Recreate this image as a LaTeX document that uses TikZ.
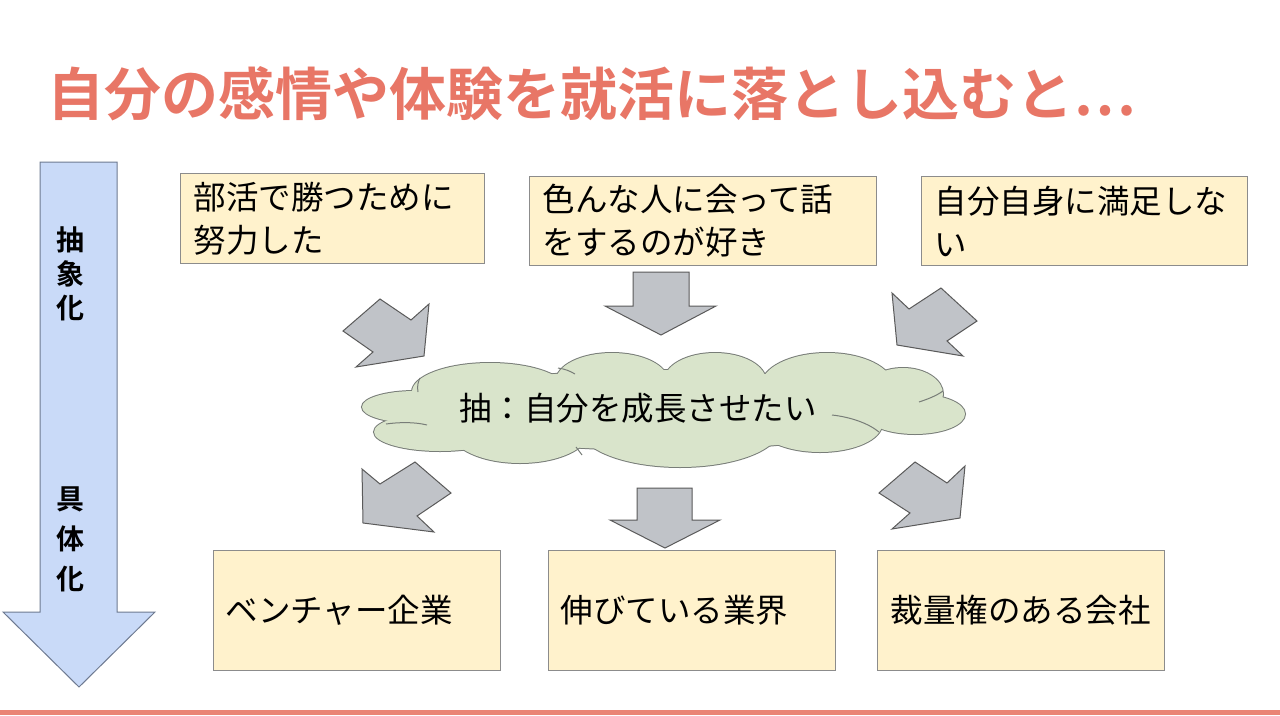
\documentclass[tikz,border=0pt]{standalone}
\usepackage{fontspec}
\setmainfont{Noto Sans CJK JP}[BoldFont={Noto Sans CJK JP Bold}]
\definecolor{titlered}{RGB}{232,118,102}
\definecolor{boxfill}{RGB}{255,242,204}
\definecolor{boxline}{RGB}{140,140,140}
\definecolor{bluefill}{RGB}{201,218,248}
\definecolor{blueline}{RGB}{110,122,145}
\definecolor{grayfill}{RGB}{192,195,200}
\definecolor{grayline}{RGB}{90,90,90}
\definecolor{cloudfill}{RGB}{217,228,203}
\definecolor{cloudline}{RGB}{120,125,120}
\tikzset{
  infobox/.style={draw=boxline, line width=1pt, fill=boxfill, rectangle, anchor=north west,
    align=left, inner xsep=13pt, inner ysep=0pt, font=\fontsize{32.5}{43}\selectfont},
  grayarrow/.style={draw=grayline, line width=1pt, fill=grayfill, line join=miter},
}
\newcommand{\cloudpuffs}[1]{%
  \path[#1] (415,407) ellipse [x radius=53, y radius=16];
  \path[#1] (440,432) ellipse [x radius=66, y radius=19];
  \path[#1] (490,392) ellipse [x radius=78, y radius=29];
  \path[#1] (612,381) ellipse [x radius=56, y radius=28];
  \path[#1] (715,381) ellipse [x radius=51, y radius=28];
  \path[#1] (827,386) ellipse [x radius=66, y radius=33];
  \path[#1] (903,394) ellipse [x radius=40, y radius=26];
  \path[#1] (915,414) ellipse [x radius=50, y radius=20];
  \path[#1] (820,424) ellipse [x radius=62, y radius=28];
  \path[#1] (680,428) ellipse [x radius=100, y radius=39];
  \path[#1] (520,430) ellipse [x radius=70, y radius=33];
  \path[#1] (660,410) ellipse [x radius=240, y radius=40];
}
\begin{document}
\begin{tikzpicture}[x=1pt,y=-1pt]
\useasboundingbox[fill=white] (0,0) rectangle (1280,715);
% title
\node[anchor=west, text=titlered, font=\fontsize{57}{62}\selectfont\bfseries, inner sep=0pt] (title) at (47,94) {自分の感情や体験を就活に落とし込むと…};
% left arrow
\draw[draw=blueline, fill=bluefill, line width=1pt] (40,162) -- (117,162) -- (117,612) -- (155,612) -- (79,687) -- (3,612) -- (40,612) -- cycle;
\node[font=\fontsize{28}{34}\selectfont\bfseries, align=center, inner sep=0pt] (abs) at (70,274) {抽\\象\\化};
\node[font=\fontsize{28}{40}\selectfont\bfseries, align=center, inner sep=0pt] (conc) at (70,539) {具\\体\\化};
% top boxes
\node[infobox, minimum width=304pt, minimum height=90pt, text width=278pt] (b1) at (180,173) {部活で勝つために\\努力した};
\node[infobox, minimum width=347pt, minimum height=89pt, text width=321pt] (b2) at (529,176) {色んな人に会って話\\をするのが好き};
\node[infobox, minimum width=326pt, minimum height=89pt, text width=300pt] (b3) at (921,176) {自分自身に満足しな\\い};
% cloud
\cloudpuffs{draw=cloudline, line width=2pt}
\cloudpuffs{fill=cloudfill}
\draw[cloudline, line width=1pt] (386,424) .. controls (400,422) and (415,422) .. (427,425);
\draw[cloudline, line width=1pt] (919,402) .. controls (928,399) and (936,396) .. (943,391);
\draw[cloudline, line width=1pt] (832,415) .. controls (850,417) and (868,423) .. (879,432);
\draw[cloudline, line width=1pt] (418,392) .. controls (417,386) and (418,382) .. (420,378);
\draw[cloudline, line width=1pt] (558,368) .. controls (565,369) and (570,371) .. (575,374);
\draw[cloudline, line width=1pt] (582,455) .. controls (580,452) and (578,450) .. (576,447);
\node[font=\fontsize{32.5}{40}\selectfont, inner sep=0pt] (cltext) at (638,408) {抽：自分を成長させたい};
% bottom boxes
\node[infobox, minimum width=287pt, minimum height=120pt, text width=263pt, inner xsep=12pt] (b4) at (213,550) {ベンチャー企業};
\node[infobox, minimum width=287pt, minimum height=120pt, text width=263pt, inner xsep=12pt] (b5) at (548,550) {伸びている業界};
\node[infobox, minimum width=287pt, minimum height=120pt, text width=261pt, inner xsep=13pt] (b6) at (877,550) {裁量権のある会社};
% gray arrows
\draw[grayarrow] (343,331) -- (380,299) -- (411,320) -- (429,304) -- (424,356) -- (356,367) -- (373,352) -- cycle;
\draw[grayarrow] (633,272) -- (689,272) -- (689,306) -- (716,306) -- (661,335) -- (605,306) -- (633,306) -- cycle;
\draw[grayarrow] (892,293) -- (909,309) -- (941,288) -- (977,321) -- (947,341) -- (963,356) -- (897,345) -- cycle;
\draw[grayarrow] (362,469) -- (380,484) -- (415,462) -- (451,493) -- (417,516) -- (434,532) -- (363,523) -- cycle;
\draw[grayarrow] (637,488) -- (692,488) -- (692,520) -- (720,520) -- (665,548) -- (610,520) -- (637,520) -- cycle;
\draw[grayarrow] (915,462) -- (947,483) -- (965,466) -- (960,518) -- (892,529) -- (910,513) -- (879,493) -- cycle;
% bottom rule
\fill[titlered!90!white] (0,710) rectangle (1280,715);
\end{tikzpicture}
\end{document}
